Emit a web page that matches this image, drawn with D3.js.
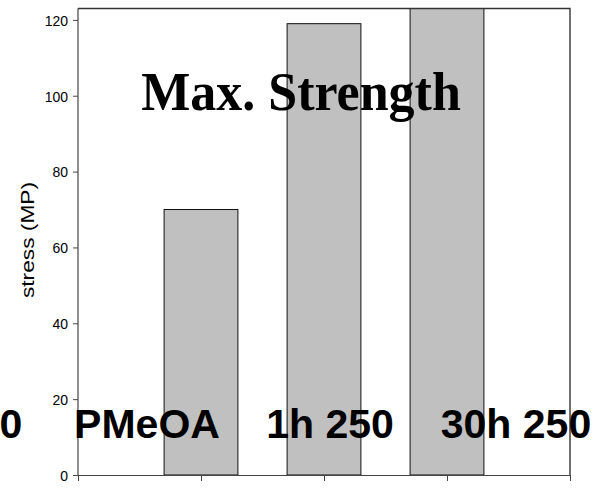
<!DOCTYPE html>
<html>
<head>
<meta charset="utf-8">
<script src="https://cdn.jsdelivr.net/npm/d3@7"></script>
<style>
  html, body { margin: 0; padding: 0; background: #fff; }
  svg { display: block; }
</style>
</head>
<body>
<svg id="chart" width="598" height="489"></svg>
<script>
// Maximum strength per sample
const categories = ["PMeOA", "1h 250", "30h 250"];
const stressValues = [70, 119, 126];
const yTicks = [0, 20, 40, 60, 80, 100, 120];
const sampleLabels = ["0", "PMeOA", "1h 250", "30h 250"];
const titleText = "Max. Strength";
const yLabelText = "stress (MP)";

const svg = d3.select("#chart");
const plot = { left: 78, right: 570, top: 8.5, bottom: 475 };

const x = d3.scaleLinear().domain([0, categories.length + 1]).range([plot.left, plot.right]);
const y = d3.scaleLinear().domain([0, 123]).range([plot.bottom, plot.top]);
const barW = (x(1) - x(0)) * 0.6;

svg.append("clipPath").attr("id", "plot-clip")
  .append("rect")
  .attr("x", plot.left).attr("y", plot.top)
  .attr("width", plot.right - plot.left).attr("height", plot.bottom - plot.top);

// bars
svg.append("g").attr("clip-path", "url(#plot-clip)")
  .selectAll("rect")
  .data(stressValues)
  .join("rect")
  .attr("x", (d, i) => x(i + 1) - barW / 2)
  .attr("y", d => y(d))
  .attr("width", barW)
  .attr("height", d => y(0) - y(d))
  .attr("fill", "#c0c0c0")
  .attr("stroke", "#111")
  .attr("stroke-width", 1);

// frame (top and right)
svg.append("path")
  .attr("d", `M${plot.left},${plot.top}H${plot.right}V${plot.bottom}`)
  .attr("fill", "none")
  .attr("stroke", "#333")
  .attr("stroke-width", 1.4);

// y axis
const yAxis = svg.append("g")
  .attr("transform", `translate(${plot.left},0)`)
  .call(d3.axisLeft(y).tickValues(yTicks).tickSize(5).tickPadding(5).tickSizeOuter(0));
yAxis.select(".domain").attr("stroke", "#444").attr("stroke-width", 1.2)
  .attr("d", `M0,${plot.top}V${plot.bottom}`);
yAxis.selectAll(".tick line").attr("stroke", "#444");
yAxis.selectAll(".tick text")
  .attr("font-family", "Liberation Sans, Arial, sans-serif")
  .attr("font-size", 14)
  .attr("fill", "#000")
  .attr("dy", null)
  .attr("y", 5)
  .attr("transform", "scale(1,1.07)");

// x axis
const xAxis = svg.append("g")
  .attr("transform", `translate(0,${plot.bottom})`)
  .call(d3.axisBottom(x).tickValues(d3.range(0, categories.length + 2)).tickSize(6).tickFormat("").tickSizeOuter(0));
xAxis.select(".domain").attr("stroke", "#444").attr("stroke-width", 1.2);
xAxis.selectAll(".tick line").attr("stroke", "#444");

// y axis title
svg.append("text")
  .attr("transform", "translate(34,240) rotate(-90) scale(1.3,1)")
  .attr("text-anchor", "middle")
  .attr("font-family", "Liberation Sans, Arial, sans-serif")
  .attr("font-size", 17.5)
  .attr("fill", "#000")
  .text(yLabelText);

// chart title
svg.append("text")
  .attr("transform", "translate(301,110) scale(1,1.07)")
  .attr("text-anchor", "middle")
  .attr("font-family", "Liberation Serif, Times New Roman, serif")
  .attr("font-weight", "bold")
  .attr("font-size", 52)
  .attr("fill", "#000")
  .text(titleText);

// sample names along the bottom
const labelX = [11, 147, 330, 516];
svg.append("g").selectAll("text")
  .data(sampleLabels)
  .join("text")
  .attr("x", (d, i) => labelX[i])
  .attr("y", 438)
  .attr("text-anchor", "middle")
  .attr("font-family", "Liberation Sans, Arial, sans-serif")
  .attr("font-weight", "bold")
  .attr("font-size", 41)
  .attr("fill", "#000")
  .text(d => d);
</script>
</body>
</html>
